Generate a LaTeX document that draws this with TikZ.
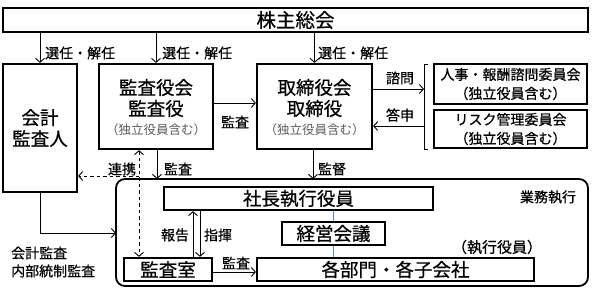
\documentclass[tikz,border=0pt]{standalone}
\usepackage{fontspec}
\setmainfont[FakeBold=0.6]{Noto Sans CJK JP}
\newfontfamily\lightjp{Noto Sans CJK JP}
\usetikzlibrary{arrows.meta,calc}
\definecolor{subgray}{RGB}{90,90,90}
\definecolor{linkblue}{RGB}{80,140,210}
\begin{document}
\begin{tikzpicture}[x=1pt,y=-1pt,
  box/.style={draw,line width=2.2pt,inner sep=0pt,align=center,font=\fontsize{18.5}{21}\selectfont},
  thickbox/.style={draw,line width=2.8pt,inner sep=0pt,align=center,font=\fontsize{14}{19}\selectfont},
  arr/.style={line width=0.9pt,-{Straight Barb[length=4pt,width=9pt]}},
  darr/.style={line width=0.9pt,dash pattern=on 3.5pt off 3pt,{Straight Barb[length=4pt,width=9pt]}-{Straight Barb[length=4pt,width=9pt]}},
  lbl/.style={inner sep=0pt,font=\fontsize{14}{16}\selectfont},
  sub/.style={font=\lightjp\fontsize{12.5}{15}\selectfont,text=subgray}]
\useasboundingbox (0,0) rectangle (592,290);
% boxes
\node[box,minimum width=585pt,minimum height=24pt,font=\fontsize{19.5}{21}\selectfont] (top) at (295.5,20) {株主総会};
\node[box,minimum width=74pt,minimum height=128pt] (kaikei) at (40,128) {会計\\監査人};
\node[box,minimum width=114pt,minimum height=85pt] (kansayaku) at (156,106.5) {};
\node[box,minimum width=115pt,minimum height=85pt] (tori) at (314.5,106.5) {};
\node[font=\fontsize{18.5}{21}\selectfont,align=center,inner sep=0pt] (ky) at (156,98) {監査役会\\監査役};
\node[sub,inner sep=0pt] (kysub) at (156,130) {（独立役員含む）};
\node[font=\fontsize{18.5}{21}\selectfont,align=center,inner sep=0pt] (tr) at (314.5,98) {取締役会\\取締役};
\node[sub,inner sep=0pt] (trsub) at (314.5,130) {（独立役員含む）};
\node[thickbox,minimum width=153pt,minimum height=40pt] (jinji) at (510.5,84) {人事・報酬諮問委員会\\（独立役員含む）};
\node[thickbox,minimum width=153pt,minimum height=38pt] (risk) at (510.5,129) {リスク管理委員会\\（独立役員含む）};
% bracket
\draw[line width=0.9pt] (428,64) -- (424,64) -- (424,149) -- (428,149);
\coordinate (brk) at (424,106);
% container
\draw[line width=1.8pt,rounded corners=9pt] (116,179) rectangle (588,286);
\coordinate (contN) at (300,179);
\coordinate (contW) at (116,233);
\node[box,minimum width=269pt,minimum height=23pt] (shacho) at (298.5,198.5) {社長執行役員};
\node[box,minimum width=103pt,minimum height=23pt] (keiei) at (333.5,233.5) {経営会議};
\node[box,minimum width=277pt,minimum height=23pt] (kakubu) at (395.5,269.5) {各部門・各子会社};
\node[box,minimum width=88pt,minimum height=23pt] (shitsu) at (168,269.5) {監査室};
% blue links
\draw[linkblue,line width=0.8pt] (shacho.south -| keiei.north) -- (keiei.north);
\draw[linkblue,line width=0.8pt] (keiei.south) -- (kakubu.north -| keiei.south);
% labels in container
\node[lbl] (gyomu) at (548,197) {業務執行};
\node[lbl,font=\fontsize{15}{16}\selectfont] (shikko) at (497,247) {（執行役員）};
% top arrows
\draw[arr] (top.south -| kaikei.north) -- (kaikei.north);
\draw[arr] (top.south -| kansayaku.north) -- (kansayaku.north);
\draw[arr] (top.south -| tori.north) -- (tori.north);
\node[lbl,anchor=west] (s1) at (45,53) {選任・解任};
\node[lbl,anchor=west] (s2) at (162,53) {選任・解任};
\node[lbl,anchor=west] (s3) at (318,53) {選任・解任};
% kansayaku -> tori
\coordinate (y103) at (0,103);
\draw[arr] (kansayaku.east |- y103) -- (tori.west |- y103);
\node[lbl] (k1) at (235,122) {監査};
% tori <-> committees
\coordinate (y89) at (0,89);
\coordinate (y126) at (0,126);
\draw[arr] (tori.east |- y89) -- (brk |- y89);
\draw[arr] (brk |- y126) -- (tori.east |- y126);
\node[lbl] (shimon) at (400,78) {諮問};
\node[lbl] (toshin) at (400,115) {答申};
% lower connectors
\coordinate (dx) at (139,0);
\coordinate (y176) at (0,176);
\draw[darr] (kansayaku.south -| dx) -- (shitsu.north -| dx);
\draw[line width=0.9pt,dash pattern=on 3.5pt off 3pt,-{Straight Barb[length=4pt,width=9pt]}] (dx |- y176) -- (kaikei.east |- y176);
\node[lbl] (renkei) at (122,169) {連携};
\draw[arr] (kansayaku.south -| 157,0) -- (contN -| 157,0);
\node[lbl] (k2) at (178,169) {監査};
\draw[arr] (tori.south -| 313,0) -- (contN -| 313,0);
\node[lbl] (kantoku) at (332,169) {監督};
% kaikei -> container
\draw[arr] (kaikei.south) |- (contW);
\node[lbl,anchor=west,align=left,font=\fontsize{14}{18}\selectfont] (kk) at (11,262) {会計監査\\内部統制監査};
% report / command
\draw[arr] (shitsu.north -| 193,0) -- (shacho.south -| 193,0);
\draw[arr] (shacho.south -| 200,0) -- (shitsu.north -| 200,0);
\node[lbl] (hokoku) at (175,235) {報告};
\node[lbl] (shiki) at (218,235) {指揮};
% shitsu -> kakubu
\draw[arr] (shitsu.east |- 0,272) -- (kakubu.west |- 0,272);
\node[lbl] (k3) at (236,263) {監査};
\end{tikzpicture}
\end{document}
